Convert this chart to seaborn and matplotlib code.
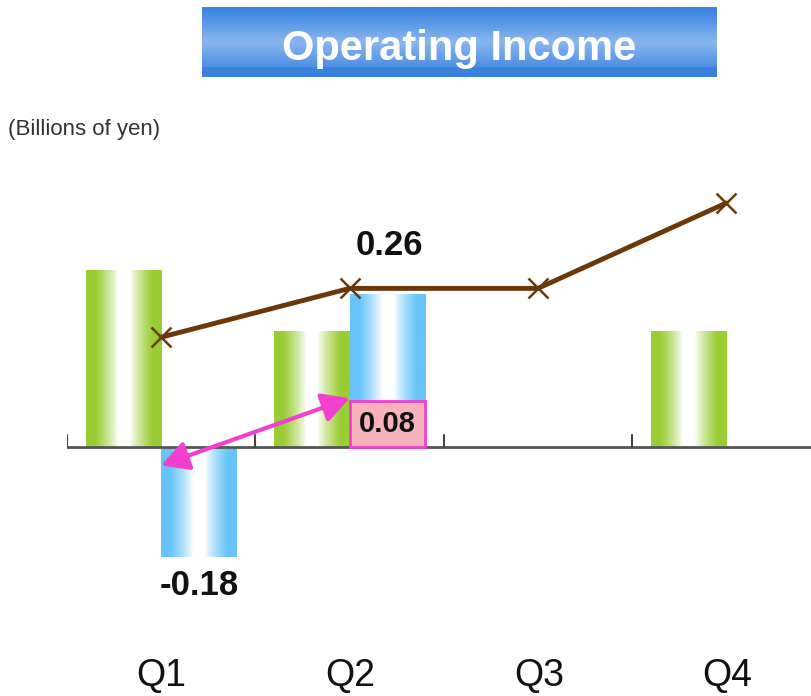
import numpy as np
import pandas as pd
import matplotlib
matplotlib.use("Agg")
import matplotlib.pyplot as plt
import seaborn as sns
from matplotlib.colors import to_rgb
from matplotlib.patches import Rectangle, FancyArrowPatch

# ---- data -------------------------------------------------------------
quarters = ["Q1", "Q2", "Q3", "Q4"]
prev_year = [0.29, 0.19, np.nan, 0.19]      # green bars
curr_year = [-0.18, 0.25, np.nan, np.nan]   # blue bars
cumulative = [0.18, 0.26, 0.26, 0.40]       # brown line
change_q = ["Q1", "Q2"]
change_vals = [-0.03, 0.08]                 # magenta arrow

GREEN = "#9ACD32"
BLUE = "#66C4F8"
BROWN = "#6B380C"
MAGENTA = "#F23FD0"

sns.set_theme(style="white")
plt.rcParams["font.family"] = ["Liberation Sans", "DejaVu Sans"]

W, H = 811, 696
fig = plt.figure(figsize=(W / 100, H / 100), dpi=100)

# plot area in pixels: x from 67 to 811, zero line at y=447, 610 px per unit
zero_px, ppu = 447, 610
top_px, bot_px = 180, 620
ax = fig.add_axes([67 / W, 1 - bot_px / H, 1 - 67 / W, (bot_px - top_px) / H])
ylim = ((zero_px - bot_px) / ppu, (zero_px - top_px) / ppu)
xlim = (-0.5, 3.45)

df = pd.DataFrame({
    "quarter": quarters * 2,
    "value": prev_year + curr_year,
    "series": ["prev"] * 4 + ["curr"] * 4,
}).dropna()

sns.barplot(data=df, x="quarter", y="value", hue="series",
            order=quarters, hue_order=["prev", "curr"],
            palette={"prev": GREEN, "curr": BLUE}, width=0.8,
            saturation=1, legend=False, errorbar=None, ax=ax, zorder=2)

# replace flat fills with a horizontal edge-to-white gradient
t = np.linspace(0, 1, 200)
weight = np.clip((np.abs(t - 0.5) - 0.08) / 0.30, 0, 1) ** 0.8
bar_geom = {}
for p in list(ax.patches):
    h = p.get_height()
    if not np.isfinite(h) or h == 0:
        continue
    base = np.array(to_rgb(p.get_facecolor()))
    img = (1 - weight[:, None]) * 1.0 + weight[:, None] * base[None, :]
    x0, w = p.get_x(), p.get_width()
    y0, y1 = sorted([p.get_y(), p.get_y() + h])
    ax.imshow(img[None, :, :], extent=[x0, x0 + w, y0, y1],
              aspect="auto", zorder=2, interpolation="bilinear")
    p.set_facecolor("none")
    p.set_edgecolor("none")
    bar_geom[(round(x0 + w / 2, 2))] = (x0, w, y0, y1)

# cumulative line
sns.pointplot(x=quarters, y=cumulative, color=BROWN, markers="x",
              linestyles="-", ax=ax, markersize=15, markeredgewidth=1.8,
              linewidth=3.5, zorder=4, errorbar=None)

# magenta change arrow Q1 -> Q2
xs = [quarters.index(q) for q in change_q]
arrow = FancyArrowPatch((xs[0], change_vals[0]), (xs[1], change_vals[1]),
                        arrowstyle="<|-|>,head_length=0.55,head_width=0.3",
                        mutation_scale=30, color=MAGENTA, lw=3,
                        shrinkA=0, shrinkB=0, zorder=5)
ax.add_patch(arrow)

# zero axis with category separators
ax.axhline(0, color="#555555", lw=2, zorder=3)
for b in np.arange(-0.5, 3.0, 1.0):
    ax.plot([b, b], [0, 0.02], color="#444444", lw=1.5, zorder=3)

# value labels
ax.annotate(f"{cumulative[1]:.2f}", xy=(1, cumulative[1]), xytext=(29, 31),
            textcoords="offset points", ha="center", va="center",
            fontsize=25, fontweight="bold", color="#111111", zorder=6)
ax.annotate(f"{curr_year[0]:.2f}", xy=(0.2, curr_year[0]), xytext=(0, -21),
            textcoords="offset points", ha="center", va="center",
            fontsize=25, fontweight="bold", color="#111111", zorder=6)

# boxed label under the Q2 current-year bar
bx0, bw, _, _ = bar_geom[1.2]
box_h = 0.075
ax.add_patch(Rectangle((bx0, 0), bw, box_h, facecolor="#F6B3B9",
                       edgecolor=MAGENTA, lw=2, zorder=6))
ax.text(bx0 + bw / 2, box_h / 2, f"{change_vals[1]:.2f}", ha="center",
        va="center", fontsize=21, fontweight="bold", color="#111111",
        zorder=7)

ax.set_xlim(*xlim)
ax.set_ylim(*ylim)
ax.set_xlabel("")
ax.set_ylabel("")
ax.set_yticks([])
ax.set_xticks([])
for s in ax.spines.values():
    s.set_visible(False)

# category labels
for i, q in enumerate(quarters):
    fig.text((67 + (i + 0.5) * 188.7) / W, 1 - 676 / H, q, ha="center",
             va="center", fontsize=27, color="#111111")

# unit note
fig.text(8 / W, 1 - 130 / H, "(Billions of yen)", ha="left", va="center",
         fontsize=16, color="#333333")

# title banner with vertical gradient
bax = fig.add_axes([202 / W, 1 - 77 / H, 515 / W, 70 / H])
yy = np.linspace(0, 1, 100)
c_dark = np.array(to_rgb("#3C85E1"))
c_light = np.array(to_rgb("#8AB6EF"))
mix = np.clip(1 - np.abs(yy - 0.5) / 0.45, 0, 1)[:, None]
grad = c_dark[None, :] * (1 - mix) + c_light[None, :] * mix
grad[yy > 0.86] = to_rgb("#3A81DE")
bax.imshow(grad[:, None, :], extent=[0, 1, 0, 1], aspect="auto",
           interpolation="bilinear")
bax.set_axis_off()
bax.text(0.5, 0.40, "Operating Income", ha="center", va="center",
         fontsize=30, fontweight="bold", color="white")

fig.savefig("out.png", dpi=100)
